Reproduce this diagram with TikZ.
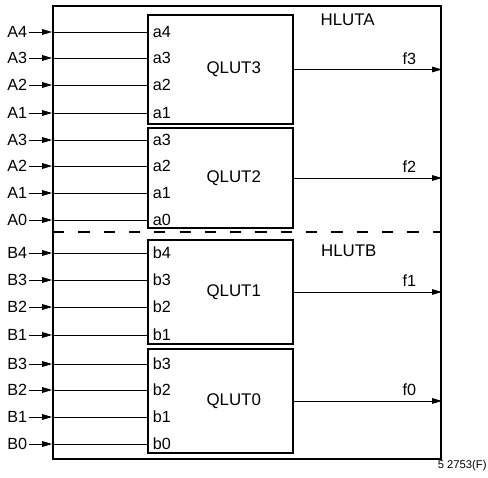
\documentclass[tikz,border=0pt]{standalone}
\usepackage{fontspec}
\setmainfont{Liberation Sans}
\usetikzlibrary{calc, positioning, arrows.meta}

\begin{document}
\begin{tikzpicture}[
  outb/.style  ={rectangle, draw=black, line width=1.3pt,
                 minimum width=9.7cm, minimum height=11.325cm, inner sep=0pt},
  qlut/.style  ={rectangle, draw=black, line width=1.2pt,
                 minimum width=3.625cm, inner sep=0pt},
  qname/.style ={font=\fontsize{12}{14}\selectfont, xshift=0.33cm},
  hname/.style ={font=\fontsize{12}{14}\selectfont},
  pin/.style   ={anchor=east, inner sep=1pt, font=\fontsize{11.5}{13}\selectfont},
  qpin/.style  ={anchor=west, inner sep=1pt, font=\fontsize{11.5}{13}\selectfont},
  fname/.style ={above, font=\fontsize{11.5}{13}\selectfont},
  inarr/.style ={-{Triangle[length=7pt, width=4pt]}, line width=0.6pt},
  wire/.style  ={line width=0.6pt},
  outarr/.style={-{Triangle[length=7pt, width=4pt]}, line width=0.6pt},
  split/.style ={line width=1.1pt, dash pattern=on 8pt off 10pt},
]

\useasboundingbox (0,0) rectangle (12.2,11.95);

%% ═══════════════ outer box ═══════════════
\node[outb] (hlut) at (6.175, 6.1375) {};
\coordinate (cutL) at (1.325, 6.15);
\coordinate (cutR) at (11.025, 6.15);
\draw[split] (cutL) -- (cutR);

\node[hname] (hA) at (8.69, 11.45) {HLUTA};
\node[hname] (hB) at (8.72, 5.675) {HLUTB};

%% ═══════════════ QLUT blocks ═══════════════
\node[qlut, minimum height=2.725cm, label={[qname]center:QLUT3}] (q3) at (5.5125, 10.2125) {};
\node[qlut, minimum height=2.5cm,   label={[qname]center:QLUT2}] (q2) at (5.5125, 7.50) {};
\node[qlut, minimum height=2.6cm,   label={[qname]center:QLUT1}] (q1) at (5.5125, 4.65) {};
\node[qlut, minimum height=2.6cm,   label={[qname]center:QLUT0}] (q0) at (5.5125, 1.925) {};

%% ═══════════════ inputs QLUT3 ═══════════════
\node[pin] (u3A4) at (0.72, 11.15)  {A4};  \node[qpin] (q3a4) at (3.78, 11.15)  {a4};
\node[pin] (u3A3) at (0.72, 10.50)  {A3};  \node[qpin] (q3a3) at (3.78, 10.50)  {a3};
\node[pin] (u3A2) at (0.72, 9.825)  {A2};  \node[qpin] (q3a2) at (3.78, 9.825)  {a2};
\node[pin] (u3A1) at (0.72, 9.125)  {A1};  \node[qpin] (q3a1) at (3.78, 9.125)  {a1};

\draw[inarr] (u3A4.east) -- (u3A4 -| hlut.west);  \draw[wire] (u3A4 -| hlut.west) -- (q3a4 -| q3.west);
\draw[inarr] (u3A3.east) -- (u3A3 -| hlut.west);  \draw[wire] (u3A3 -| hlut.west) -- (q3a3 -| q3.west);
\draw[inarr] (u3A2.east) -- (u3A2 -| hlut.west);  \draw[wire] (u3A2 -| hlut.west) -- (q3a2 -| q3.west);
\draw[inarr] (u3A1.east) -- (u3A1 -| hlut.west);  \draw[wire] (u3A1 -| hlut.west) -- (q3a1 -| q3.west);

%% ═══════════════ inputs QLUT2 ═══════════════
\node[pin] (u2A3) at (0.72, 8.45)   {A3};  \node[qpin] (q2a3) at (3.78, 8.45)   {a3};
\node[pin] (u2A2) at (0.72, 7.80)   {A2};  \node[qpin] (q2a2) at (3.78, 7.80)   {a2};
\node[pin] (u2A1) at (0.72, 7.125)  {A1};  \node[qpin] (q2a1) at (3.78, 7.125)  {a1};
\node[pin] (u2A0) at (0.72, 6.45)   {A0};  \node[qpin] (q2a0) at (3.78, 6.45)   {a0};

\draw[inarr] (u2A3.east) -- (u2A3 -| hlut.west);  \draw[wire] (u2A3 -| hlut.west) -- (q2a3 -| q2.west);
\draw[inarr] (u2A2.east) -- (u2A2 -| hlut.west);  \draw[wire] (u2A2 -| hlut.west) -- (q2a2 -| q2.west);
\draw[inarr] (u2A1.east) -- (u2A1 -| hlut.west);  \draw[wire] (u2A1 -| hlut.west) -- (q2a1 -| q2.west);
\draw[inarr] (u2A0.east) -- (u2A0 -| hlut.west);  \draw[wire] (u2A0 -| hlut.west) -- (q2a0 -| q2.west);

%% ═══════════════ inputs QLUT1 ═══════════════
\node[pin] (u1B4) at (0.72, 5.625)  {B4};  \node[qpin] (q1b4) at (3.78, 5.625)  {b4};
\node[pin] (u1B3) at (0.72, 4.95)   {B3};  \node[qpin] (q1b3) at (3.78, 4.95)   {b3};
\node[pin] (u1B2) at (0.72, 4.275)  {B2};  \node[qpin] (q1b2) at (3.78, 4.275)  {b2};
\node[pin] (u1B1) at (0.72, 3.575)  {B1};  \node[qpin] (q1b1) at (3.78, 3.575)  {b1};

\draw[inarr] (u1B4.east) -- (u1B4 -| hlut.west);  \draw[wire] (u1B4 -| hlut.west) -- (q1b4 -| q1.west);
\draw[inarr] (u1B3.east) -- (u1B3 -| hlut.west);  \draw[wire] (u1B3 -| hlut.west) -- (q1b3 -| q1.west);
\draw[inarr] (u1B2.east) -- (u1B2 -| hlut.west);  \draw[wire] (u1B2 -| hlut.west) -- (q1b2 -| q1.west);
\draw[inarr] (u1B1.east) -- (u1B1 -| hlut.west);  \draw[wire] (u1B1 -| hlut.west) -- (q1b1 -| q1.west);

%% ═══════════════ inputs QLUT0 ═══════════════
\node[pin] (u0B3) at (0.72, 2.85)   {B3};  \node[qpin] (q0b3) at (3.78, 2.85)   {b3};
\node[pin] (u0B2) at (0.72, 2.20)   {B2};  \node[qpin] (q0b2) at (3.78, 2.20)   {b2};
\node[pin] (u0B1) at (0.72, 1.525)  {B1};  \node[qpin] (q0b1) at (3.78, 1.525)  {b1};
\node[pin] (u0B0) at (0.72, 0.85)   {B0};  \node[qpin] (q0b0) at (3.78, 0.85)   {b0};

\draw[inarr] (u0B3.east) -- (u0B3 -| hlut.west);  \draw[wire] (u0B3 -| hlut.west) -- (q0b3 -| q0.west);
\draw[inarr] (u0B2.east) -- (u0B2 -| hlut.west);  \draw[wire] (u0B2 -| hlut.west) -- (q0b2 -| q0.west);
\draw[inarr] (u0B1.east) -- (u0B1 -| hlut.west);  \draw[wire] (u0B1 -| hlut.west) -- (q0b1 -| q0.west);
\draw[inarr] (u0B0.east) -- (u0B0 -| hlut.west);  \draw[wire] (u0B0 -| hlut.west) -- (q0b0 -| q0.west);

%% ═══════════════ outputs ═══════════════
\draw[outarr] (q3.east) -- (q3.east -| hlut.east) node[fname, pos=0.78] {f3};
\draw[outarr] (q2.east) -- (q2.east -| hlut.east) node[fname, pos=0.78] {f2};
\draw[outarr] (q1.east) -- (q1.east -| hlut.east) node[fname, pos=0.78] {f1};
\draw[outarr] (q0.east) -- (q0.east -| hlut.east) node[fname, pos=0.78] {f0};

%% figure number
\node[anchor=east, inner sep=0pt, font=\fontsize{8}{10}\selectfont] (fig) at (12.17, 0.30) {5 2753(F)};

\end{tikzpicture}
\end{document}
